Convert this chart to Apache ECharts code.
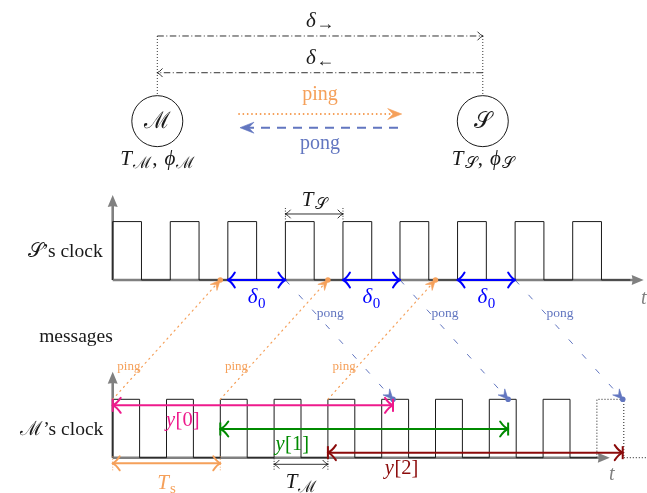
<!DOCTYPE html>
<html>
<head>
<meta charset="utf-8">
<script src="https://cdn.jsdelivr.net/npm/echarts@6/dist/echarts.min.js"></script>
<style>
html,body{margin:0;padding:0;background:#ffffff;}
#chart{width:647px;height:493px;}
</style>
</head>
<body>
<div id="chart"></div>
<script>
// ===== data: times in units of the master period T_M (master's first rising edge at t = 0) =====
const masterRises = [0, 1, 2, 3, 4, 5, 6, 7, 8];
const masterNextRise = [9];
const masterHigh = 0.5;
const slaveRises = [0, 1.07, 2.14, 3.21, 4.28, 5.34, 6.41, 7.48, 8.55];
const slaveHigh = 0.535;
const pingSend = [0, 2, 4];
const pingArrive = [2, 4, 6];
const delta0Start = [2.14, 4.28, 6.41];
const pongSend = [3.21, 5.34, 7.48];
const pongArrive = [5.21, 7.35, 9.48];
const yIndex = ['0', '1', '2'];

// ===== layout (axis scale: 1 time unit / 1 level unit) =====
const X0 = 112.7, UX = 53.8, Y0 = 457.7, UY = 58.4, W = 647, H = 493;
const SB = 3.043, ST = SB + 1, MB = 0, MT = 1;
const NODE_V = 5.763, M_T = 0.829, S_T = 6.879;
const Y_LEV = [0.897, 0.491, 0.086];
const COL = {
  orange: '#F5A05A', pong: '#6276C0', blue: '#0000FF', ink: '#1a1a1a', gray: '#808080',
  y: ['#EE1A8C', '#008A00', '#8B0A0A']
};
const FF = '"Liberation Serif","DejaVu Serif",serif';
const SCRIPT_M = '\u2133', SCRIPT_S = '\uD835\uDCAE';

const mctx = document.createElement('canvas').getContext('2d');
function fnt(size, it) { return (it ? 'italic ' : '') + size + 'px ' + FF; }
function tw(t, f) { mctx.font = f; return mctx.measureText(t).width; }
function P(t, s, it, dy, kern) { return { t: t, size: s, it: !!it, dy: dy || 0, kern: kern || 0 }; }
function mathText(x, yc, parts, align, color) {
  const m = parts[0].size;
  let total = 0;
  const ws = parts.map(p => { const w = tw(p.t, fnt(p.size, p.it)) + p.kern; total += w; return w; });
  total -= parts[parts.length - 1].kern;
  let cx = align === 'center' ? x - total / 2 : (align === 'right' ? x - total : x);
  return parts.map((p, i) => {
    const el = {
      type: 'text', silent: true,
      style: {
        text: p.t, x: cx, y: yc + 0.3375 * (m - p.size) + p.dy, font: fnt(p.size, p.it),
        fill: p.color || color, align: 'left', verticalAlign: 'middle',
        textAlign: 'left', textVerticalAlign: 'middle'
      }
    };
    cx += ws[i];
    return el;
  });
}
function unit(a, b) { const dx = b[0] - a[0], dy = b[1] - a[1]; const L = Math.hypot(dx, dy) || 1; return [dx / L, dy / L]; }
function head(kind, tip, d, o) {
  const n = [-d[1], d[0]];
  const pt = (l, w) => [tip[0] - d[0] * l + n[0] * w, tip[1] - d[1] * l + n[1] * w];
  const len = o.len, hw = o.hw, col = o.color, lw = o.lw || 1;
  if (kind === 'barb') {
    return [-1, 1].map(s => {
      const e = pt(len, s * hw), c = pt(len * 0.5, s * hw * 0.22);
      return { type: 'bezierCurve', shape: { x1: tip[0], y1: tip[1], x2: e[0], y2: e[1], cpx1: c[0], cpy1: c[1] },
        style: { stroke: col, lineWidth: lw, fill: 'none', lineCap: 'round' } };
    });
  }
  if (kind === 'stealth') {
    return [{ type: 'polygon', shape: { points: [tip, pt(len, hw), pt(len * 0.62, 0), pt(len, -hw)] },
      style: { fill: col, stroke: col, lineWidth: 0.6 } }];
  }
  if (kind === 'latex') {
    return [{ type: 'polygon', shape: { points: [tip, pt(len, hw), pt(len * 0.92, 0), pt(len, -hw)] }, style: { fill: col } }];
  }
  if (kind === 'bar') {
    const a = pt(0, o.bw || hw), b = pt(0, -(o.bw || hw));
    return [{ type: 'line', shape: { x1: a[0], y1: a[1], x2: b[0], y2: b[1] }, style: { stroke: col, lineWidth: lw } }];
  }
  return [];
}
function arrow(a, b, o) {
  const d = unit(a, b);
  const s0 = o.shortenStart || 0, s1 = o.shortenEnd || 0;
  const a2 = [a[0] + d[0] * s0, a[1] + d[1] * s0], b2 = [b[0] - d[0] * s1, b[1] - d[1] * s1];
  const out = [{ type: 'line', shape: { x1: a2[0], y1: a2[1], x2: b2[0], y2: b2[1] },
    style: { stroke: o.color, lineWidth: o.lw, lineDash: o.dash || null, lineCap: o.cap || 'butt', fill: 'none' } }];
  const hs = Object.assign({ color: o.color, lw: o.lw }, o.hs || {});
  (o.end || []).forEach(k => out.push(...head(k, b, d, hs)));
  (o.start || []).forEach(k => out.push(...head(k, a, [-d[0], -d[1]], hs)));
  return out;
}
function vtick(p, half, color, lw) {
  return { type: 'line', shape: { x1: p[0], y1: p[1] - half, x2: p[0], y2: p[1] + half },
    style: { stroke: color, lineWidth: lw || 0.9, lineDash: [1, 1.6] } };
}
function subLabel(x, yc, main, sub, color, subSize, subIt) {
  return mathText(x, yc, [P(main, 21, true, 0, 1), P(sub, subSize || 16, !!subIt, 3)], 'center', color);
}

// ===== series render functions =====
function renderFrame(params, api) {
  const c = (t, v) => api.coord([t, v]);
  const ch = [];
  const axis = { color: COL.gray, lw: 2.6, end: ['latex'], shortenEnd: 6, hs: { len: 12, hw: 5 } };
  ch.push(...arrow(c(0, SB), c(9.87, SB), axis));
  ch.push(...arrow(c(0, SB), c(0, 4.5), axis));
  ch.push(...arrow(c(0, MB), c(9.24, MB), axis));
  ch.push(...arrow(c(0, MB), c(0, 1.47), axis));
  return { type: 'group', children: ch };
}
function renderPulse(rises, high, base, ghost) {
  return function (params, api) {
    const i = params.dataIndex, r = api.value(0);
    const next = ghost ? null : (i + 1 < rises.length ? rises[i + 1] : r + 2 * high);
    const pts = [[r, base], [r, base + 1], [r + high, base + 1], [r + high, base]];
    if (next !== null) pts.push([next, base]);
    const ch = [{ type: 'polyline', shape: { points: pts.map(p => api.coord(p)) },
      style: { stroke: COL.ink, lineWidth: 1, fill: 'none', lineDash: ghost ? [1, 2] : null } }];
    if (ghost) {
      const a = api.coord([r + high, base]);
      ch.push({ type: 'line', shape: { x1: a[0], y1: a[1], x2: W, y2: a[1] },
        style: { stroke: COL.ink, lineWidth: 1, lineDash: [1, 2] } });
    }
    return { type: 'group', children: ch };
  };
}
function renderPing(params, api) {
  const s = api.coord([api.value(0), MT]), e = api.coord([api.value(1), SB]);
  const ch = arrow(s, e, { color: COL.orange, lw: 1.2, dash: [1.2, 4.2], cap: 'round', end: ['stealth'], shortenEnd: 5, hs: { len: 10, hw: 4.5, lw: 0.6 } });
  ch.push({ type: 'circle', shape: { cx: e[0], cy: e[1], r: 2.7 }, style: { fill: COL.orange } });
  const f = 0.272, p = [s[0] + (e[0] - s[0]) * f, s[1] + (e[1] - s[1]) * f];
  ch.push(...mathText(p[0] - 1.5, p[1], [P('ping', 13)], 'right', COL.orange));
  return { type: 'group', children: ch };
}
function renderPong(params, api) {
  const s = api.coord([api.value(0), SB]), e = api.coord([api.value(1), MT]);
  const ch = arrow(s, e, { color: COL.pong, lw: 1, dash: [6, 14], end: ['stealth'], shortenEnd: 5, hs: { len: 10, hw: 4.5, lw: 0.6 } });
  ch.push({ type: 'circle', shape: { cx: e[0], cy: e[1], r: 2.8 }, style: { fill: COL.pong } });
  const f = 0.277, p = [s[0] + (e[0] - s[0]) * f, s[1] + (e[1] - s[1]) * f];
  ch.push(...mathText(p[0] + 1.5, p[1], [P('pong', 13.5)], 'left', COL.pong));
  return { type: 'group', children: ch };
}
function renderDelta0(params, api) {
  const a = api.coord([api.value(0), SB]), b = api.coord([api.value(1), SB]);
  const ch = arrow(a, b, { color: COL.blue, lw: 2, start: ['barb'], end: ['barb'], hs: { len: 7, hw: 7.5, lw: 2 } });
  const m = api.coord([(api.value(0) + api.value(1)) / 2, 2.735]);
  ch.push(...mathText(m[0], m[1], [P('\u03B4', 21, true, 0, 0.5), P('0', 15, false, 4)], 'center', COL.blue));
  return { type: 'group', children: ch };
}
function renderY(params, api) {
  const i = params.dataIndex, col = COL.y[i], lev = Y_LEV[i];
  const t0 = api.value(0), t1 = api.value(1);
  const a = api.coord([t0, lev]), b = api.coord([t1, lev]);
  const ch = arrow(a, b, { color: col, lw: 2, start: ['barb', 'bar'], end: ['barb', 'bar'], hs: { len: 8, hw: 7.5, lw: 2, bw: 6.5 } });
  const m = api.coord([t0 + 0.25 * (t1 - t0), lev - 0.265]);
  ch.push(...mathText(m[0], m[1], [P('y', 20.5, true, 0, 0.5), P('[' + yIndex[i] + ']', 20.5)], 'center', col));
  return { type: 'group', children: ch };
}
function renderAnnot(params, api) {
  const c = (t, v) => api.coord([t, v]);
  const ch = [];
  const R = 25.5;
  const mN = c(M_T, NODE_V), sN = c(S_T, NODE_V);
  const topD = c(M_T, 7.221);
  [mN, sN].forEach(n => ch.push({ type: 'line', shape: { x1: n[0], y1: topD[1], x2: n[0], y2: n[1] - R },
    style: { stroke: COL.ink, lineWidth: 0.9, lineDash: [1, 2] } }));
  const dd = { color: COL.ink, lw: 0.9, dash: [6.5, 2.5, 1, 2.5], end: ['barb'], hs: { len: 5, hw: 4, lw: 0.9 } };
  ch.push(...arrow(c(M_T, 7.221), c(S_T, 7.221), dd));
  ch.push(...arrow(c(S_T, 6.592), c(M_T, 6.592), dd));
  const mid = (M_T + S_T) / 2;
  let p = c(mid, 7.466);
  ch.push(...mathText(p[0], p[1], [P('\u03B4', 21, true, 0, 0.5), P('\u2192', 18, false, 1.5)], 'center', COL.ink));
  p = c(mid, 6.839);
  ch.push(...mathText(p[0], p[1], [P('\u03B4', 21, true, 0, 0.5), P('\u2190', 18, false, 1.5)], 'center', COL.ink));
  [mN, sN].forEach(n => ch.push({ type: 'circle', shape: { cx: n[0], cy: n[1], r: R }, style: { fill: '#fff', stroke: COL.ink, lineWidth: 1 } }));
  ch.push(...mathText(mN[0], mN[1] + 1, [P(SCRIPT_M, 23)], 'center', COL.ink));
  ch.push(...mathText(sN[0], sN[1] + 1, [P(SCRIPT_S, 23)], 'center', COL.ink));
  p = c(M_T, 5.11);
  ch.push(...mathText(p[0], p[1], [P('T', 21, true, 0, 1.5), P(SCRIPT_M, 16, false, 3, 1), P(',', 21, false, 0, 7), P('\u03D5', 21, true, 0, 1), P(SCRIPT_M, 16, false, 3)], 'center', COL.ink));
  p = c(S_T, 5.11);
  ch.push(...mathText(p[0], p[1], [P('T', 21, true, 0, 1.5), P(SCRIPT_S, 16, false, 3, 1), P(',', 21, false, 0, 7), P('\u03D5', 21, true, 0, 1), P(SCRIPT_S, 16, false, 3)], 'center', COL.ink));
  ch.push(...arrow(c(2.335, 5.885), c(5.372, 5.885), { color: COL.orange, lw: 1.8, dash: [1.5, 2.8], end: ['stealth'], shortenEnd: 8, hs: { len: 14, hw: 5.5, lw: 0.6 } }));
  ch.push(...arrow(c(5.303, 5.651), c(2.366, 5.651), { color: COL.pong, lw: 2, dash: [9, 7], end: ['stealth'], shortenEnd: 8, hs: { len: 14, hw: 5.5, lw: 0.6 } }));
  p = c(mid, 6.211);
  ch.push(...mathText(p[0], p[1], [P('ping', 20)], 'center', COL.orange));
  p = c(mid, 5.384);
  ch.push(...mathText(p[0], p[1], [P('pong', 20)], 'center', COL.pong));
  p = c(-0.186, 3.527);
  ch.push(...mathText(p[0], p[1], [P(SCRIPT_S, 19.5), P('\u2019s clock', 19.5)], 'right', COL.ink));
  p = c(-0.682, 2.072);
  ch.push(...mathText(p[0], p[1], [P('messages', 19.5)], 'center', COL.ink));
  p = c(-0.175, 0.474);
  ch.push(...mathText(p[0], p[1], [P(SCRIPT_M, 19.5), P('\u2019s clock', 19.5)], 'right', COL.ink));
  p = c(9.87, 2.73);
  ch.push(...mathText(p[0], p[1], [P('t', 20, true)], 'center', COL.gray));
  p = c(9.276, -0.296);
  ch.push(...mathText(p[0], p[1], [P('t', 20, true)], 'center', COL.gray));
  const thin = { color: COL.ink, lw: 0.9, start: ['barb'], end: ['barb'], hs: { len: 5, hw: 4, lw: 0.9 } };
  let a = c(slaveRises[3], 4.173), b = c(slaveRises[4], 4.173);
  ch.push(...arrow(a, b, thin), vtick(a, 6, COL.ink), vtick(b, 6, COL.ink));
  p = c((slaveRises[3] + slaveRises[4]) / 2, 4.409);
  ch.push(...subLabel(p[0], p[1], 'T', SCRIPT_S, COL.ink));
  a = c(pingSend[0], -0.096); b = c(pingSend[1], -0.096);
  ch.push(...arrow(a, b, { color: COL.orange, lw: 2, start: ['barb'], end: ['barb'], hs: { len: 7, hw: 7, lw: 2 } }), vtick(a, 7, COL.orange), vtick(b, 7, COL.orange));
  p = c((pingSend[0] + pingSend[1]) / 2, -0.438);
  ch.push(...mathText(p[0], p[1], [P('T', 21, true, 0, 1), P('s', 15, false, 4)], 'center', COL.orange));
  a = c(masterRises[3], -0.113); b = c(masterRises[4], -0.113);
  ch.push(...arrow(a, b, thin), vtick(a, 6, COL.ink), vtick(b, 6, COL.ink));
  p = c((masterRises[3] + masterRises[4]) / 2, -0.428);
  ch.push(...subLabel(p[0], p[1], 'T', SCRIPT_M, COL.ink));
  return { type: 'group', children: ch };
}

const chart = echarts.init(document.getElementById('chart'), null, { renderer: 'canvas' });
const base = { type: 'custom', clip: false, silent: true, animation: false };
chart.setOption({
  animation: false,
  backgroundColor: '#ffffff',
  grid: { left: 0, right: 0, top: 0, bottom: 0, containLabel: false },
  xAxis: { type: 'value', min: -X0 / UX, max: (W - X0) / UX, show: false },
  yAxis: { type: 'value', min: -(H - Y0) / UY, max: Y0 / UY, show: false },
  series: [
    Object.assign({ name: 'axes', z: 1, data: [[0, 0]], renderItem: renderFrame }, base),
    Object.assign({ name: "S's clock", z: 2, data: slaveRises.map(r => [r, SB]), renderItem: renderPulse(slaveRises, slaveHigh, SB, false) }, base),
    Object.assign({ name: "M's clock", z: 2, data: masterRises.map(r => [r, MB]), renderItem: renderPulse(masterRises, masterHigh, MB, false) }, base),
    Object.assign({ name: 'next tick', z: 2, data: masterNextRise.map(r => [r, MB]), renderItem: renderPulse(masterNextRise, masterHigh, MB, true) }, base),
    Object.assign({ name: 'annotations', z: 3, data: [[0, 0]], renderItem: renderAnnot }, base),
    Object.assign({ name: 'ping', z: 4, data: pingSend.map((s, i) => [s, pingArrive[i]]), renderItem: renderPing }, base),
    Object.assign({ name: 'pong', z: 4, data: pongSend.map((s, i) => [s, pongArrive[i]]), renderItem: renderPong }, base),
    Object.assign({ name: 'delta0', z: 5, data: delta0Start.map((s, i) => [s, pongSend[i]]), renderItem: renderDelta0 }, base),
    Object.assign({ name: 'y', z: 5, data: pingSend.map((s, i) => [s, pongArrive[i]]), renderItem: renderY }, base)
  ]
});
</script>
</body>
</html>
